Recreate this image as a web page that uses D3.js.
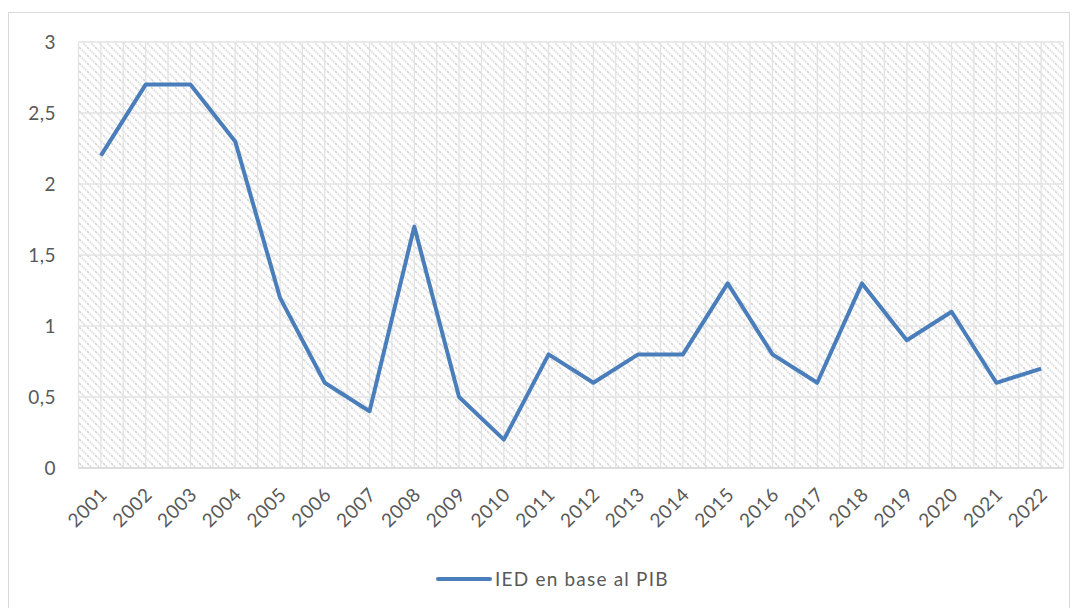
<!DOCTYPE html>
<html><head><meta charset="utf-8">
<script src="https://cdn.jsdelivr.net/npm/d3@7"></script>
<style>body{margin:0;background:#fff}svg{display:block}text{font-family:Lato,"Noto Sans",sans-serif;fill:#595959}</style>
</head><body>
<svg id="c" width="1078" height="608"></svg>
<script>
const years = ["2001","2002","2003","2004","2005","2006","2007","2008","2009","2010","2011","2012","2013","2014","2015","2016","2017","2018","2019","2020","2021","2022"];
const values = [2.2,2.7,2.7,2.3,1.2,0.6,0.4,1.7,0.5,0.2,0.8,0.6,0.8,0.8,1.3,0.8,0.6,1.3,0.9,1.1,0.6,0.7];
const yTicks = [0,0.5,1,1.5,2,2.5,3];
const seriesName = "IED en base al PIB";

const svg = d3.select("#c");
const m = {l:78.5, r:1063.5, t:42, b:468};
const x = d3.scaleBand().domain(years).range([m.l, m.r]);
const y = d3.scaleLinear().domain([0,3]).range([m.b, m.t]);

svg.append("rect").attr("x",8.5).attr("y",12.5).attr("width",1061).attr("height",620)
  .attr("fill","#fff").attr("stroke","#d9d9d9");

const defs = svg.append("defs");
const pat = defs.append("pattern").attr("id","hatch").attr("patternUnits","userSpaceOnUse")
  .attr("width",8).attr("height",8);
pat.append("rect").attr("width",8).attr("height",8).attr("fill","#fff");
pat.append("path").attr("d","M0,0 L8,8 M-4,4 L4,12 M4,-4 L12,4").attr("stroke","#d6d6d6").attr("stroke-width",1.6).attr("stroke-dasharray","1.5,1");

svg.append("rect").attr("x",m.l).attr("y",m.t).attr("width",m.r-m.l).attr("height",m.b-m.t).attr("fill","url(#hatch)");

// vertical gridlines at half-category steps
const half = [];
years.forEach((d,i)=>{ half.push(x(d)); half.push(x(d)+x.bandwidth()/2); });
half.push(m.r);
svg.append("g").selectAll("line").data(half).join("line")
  .attr("x1",d=>d).attr("x2",d=>d).attr("y1",m.t).attr("y2",m.b)
  .attr("stroke","#e3e3e3").attr("stroke-width",1.3);
svg.append("g").selectAll("line").data(yTicks).join("line")
  .attr("x1",m.l).attr("x2",m.r).attr("y1",d=>y(d)).attr("y2",d=>y(d))
  .attr("stroke","#e3e3e3").attr("stroke-width",1.3);
svg.append("line").attr("x1",m.l).attr("x2",m.r).attr("y1",m.b).attr("y2",m.b).attr("stroke","#d9d9d9").attr("stroke-width",1.5);

// y labels
svg.append("g").selectAll("text").data(yTicks).join("text")
  .attr("x",56).attr("y",d=>y(d)).attr("dy","0.35em").attr("text-anchor","end")
  .style("font-size","19px").style("letter-spacing","0.5px").text(d=>String(d).replace(".",","));

// x labels
svg.append("g").selectAll("text").data(years).join("text")
  .attr("transform",d=>`translate(${x(d)+x.bandwidth()/2+3},${m.b+23}) rotate(-45)`)
  .attr("text-anchor","end").attr("dy","0.35em").style("font-size","19px").style("letter-spacing","0.6px").text(d=>d);

const line = d3.line().x((d,i)=>x(years[i])+x.bandwidth()/2).y(d=>y(d));
svg.append("path").datum(values).attr("d",line).attr("fill","none")
  .attr("stroke","#4a7ebb").attr("stroke-width",4).attr("stroke-linejoin","round");

// legend
svg.append("line").attr("x1",438).attr("x2",490).attr("y1",579).attr("y2",579)
  .attr("stroke","#4a7ebb").attr("stroke-width",4).attr("stroke-linecap","round");
svg.append("text").attr("x",495).attr("y",579).attr("dy","0.35em").style("font-size","19px").style("letter-spacing","1.2px").text(seriesName);
</script>
</body></html>
